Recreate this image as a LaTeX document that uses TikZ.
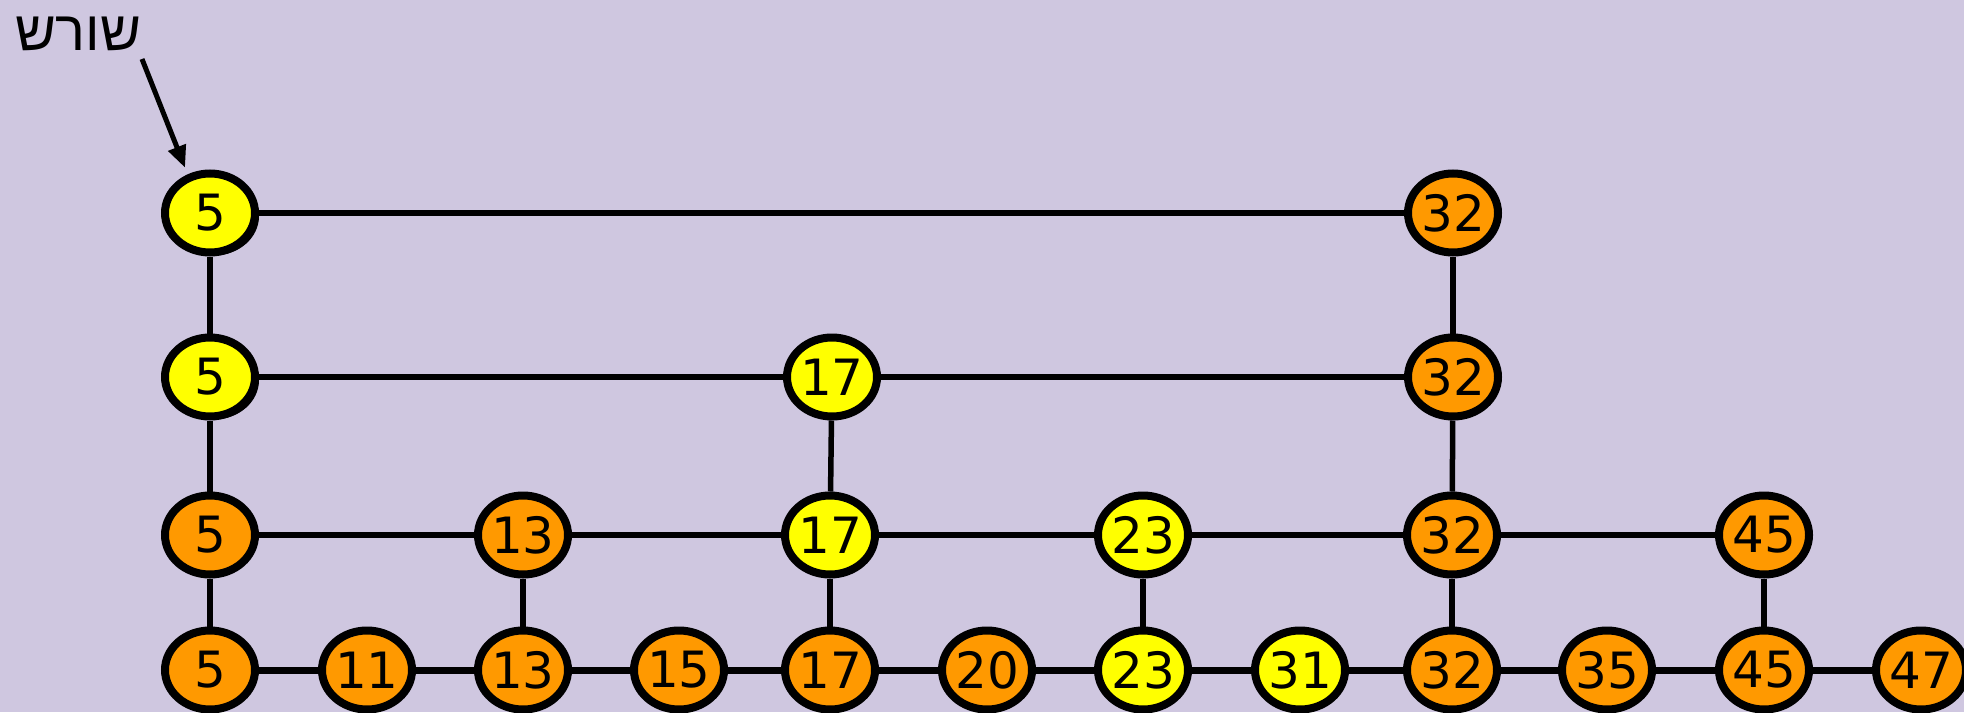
\documentclass[tikz,border=0pt]{standalone}
\usepackage{fontspec}
\setsansfont{DejaVu Sans}
\newfontfamily\hebfont[Script=Hebrew]{Liberation Sans}
\TeXXeTstate=1
\usetikzlibrary{arrows.meta, shapes.geometric, shadows}
\definecolor{cbg}{HTML}{CFC7E0}
\definecolor{corange}{HTML}{FF9900}
\definecolor{cyellow}{HTML}{FFFF00}
\tikzset{
  every picture/.style={font=\sffamily, line width=6pt},
  cell/.style={ellipse, draw=black, fill=#1, line width=8pt, minimum width=90pt, minimum height=79pt,
               inner sep=0pt, font=\sffamily\fontsize{50}{50}\selectfont},
  cell/.default=corange,
  lane/.style={draw=black, line width=5.5pt},
  pointer/.style={-{Triangle[length=22pt, width=18pt]}, draw=black, line width=5pt},
  shadowed/.style={drop shadow={shadow xshift=4pt, shadow yshift=-3pt, fill=black, opacity=1}},
}

\begin{document}
\begin{tikzpicture}[x=1pt, y=-1pt]
  \fill[cbg] (0,0) rectangle (1964,712);
  \useasboundingbox (0,0) rectangle (1964,712);
  % label
  \node[font=\hebfont\fontsize{56}{56}\selectfont, anchor=base west, inner sep=0pt] (root) at (12,50) {\beginR שורש\endR};
  \coordinate (rootTail) at (142,59);
  % top level
  \node[cell=cyellow, shadowed] (a0) at (210,213) {5};
  \node[cell] (a8) at (1453,213) {32};
  % level 2
  \node[cell=cyellow, shadowed] (b0) at (210,377) {5};
  \node[cell=cyellow] (b4) at (832,377) {17};
  \node[cell] (b8) at (1453,377) {32};
  % level 3
  \node[cell] (c0) at (210,535) {5};
  \node[cell] (c2) at (523,535) {13};
  \node[cell=cyellow] (c4) at (830,535) {17};
  \node[cell=cyellow] (c6) at (1143,535) {23};
  \node[cell] (c8) at (1452,535) {32};
  \node[cell] (c10) at (1764,535) {45};
  % bottom list
  \node[cell] (d0) at (210,670) {5};
  \node[cell] (d1) at (367,670) {11};
  \node[cell] (d2) at (523,670) {13};
  \node[cell] (d3) at (679,670) {15};
  \node[cell] (d4) at (830,670) {17};
  \node[cell] (d5) at (987,670) {20};
  \node[cell=cyellow] (d6) at (1143,670) {23};
  \node[cell=cyellow] (d7) at (1300,670) {31};
  \node[cell] (d8) at (1452,670) {32};
  \node[cell] (d9) at (1607,670) {35};
  \node[cell] (d10) at (1764,670) {45};
  \node[cell] (d11) at (1921,670) {47};
  \foreach \u/\v in {a0/a8, b0/b4, b4/b8, c0/c2, c2/c4, c4/c6, c6/c8, c8/c10,
                     a0/b0, b0/c0, c0/d0, a8/b8, b8/c8, c8/d8, b4/c4, c4/d4, c2/d2, c6/d6, c10/d10}
    \draw[lane] (\u) -- (\v);
  \foreach \u/\v in {d0/d1, d1/d2, d2/d3, d3/d4, d4/d5, d5/d6, d6/d7, d7/d8, d8/d9, d9/d10, d10/d11}
    \draw[lane, line width=7pt] (\u) -- (\v);
  \draw[pointer, shorten >=7pt] (rootTail) -- (a0.120);
\end{tikzpicture}
\end{document}
